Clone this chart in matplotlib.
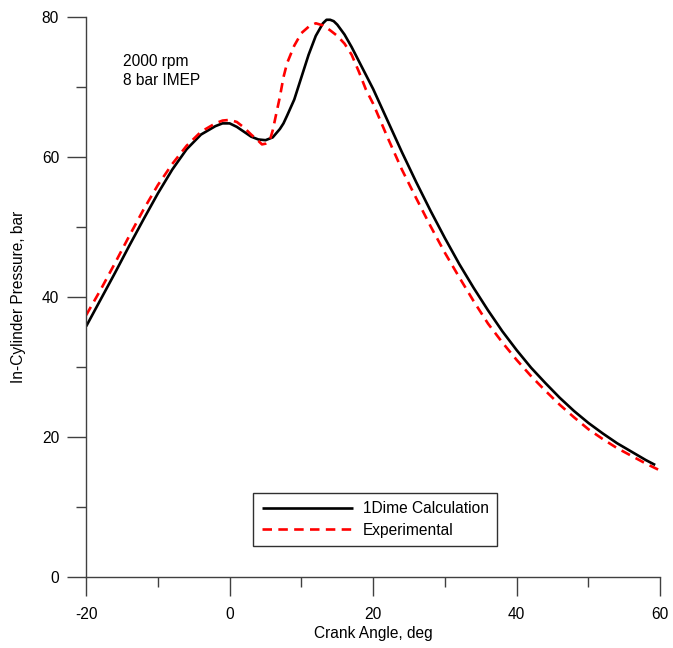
import matplotlib
matplotlib.use("Agg")
import matplotlib.pyplot as plt
from matplotlib.ticker import MultipleLocator

plt.rcParams['font.family'] = ['Liberation Sans', 'DejaVu Sans']
plt.rcParams['axes.unicode_minus'] = False

FS = 11.2

# Crank angle (deg) and in-cylinder pressure (bar), 1D model
calc_angle = [-20, -18, -16, -14, -12, -10, -8, -6, -4, -2, -1, 0, 1, 2, 3, 4, 5,
              6, 7, 7.5, 8, 9, 10, 11, 12, 13, 13.5, 14, 14.5, 15, 16, 17, 18, 19,
              20, 22, 24, 26, 28, 30, 32, 34, 36, 38, 40, 42, 44, 46, 48, 50, 52,
              54, 56, 58, 59.3]
calc_pressure = [35.8, 39.6, 43.4, 47.3, 51.1, 54.8, 58.2, 61.1, 63.2, 64.4, 64.8,
                 64.8, 64.3, 63.6, 62.9, 62.5, 62.4, 62.8, 64.0, 64.8, 65.9, 68.2,
                 71.4, 74.6, 77.3, 79.1, 79.6, 79.6, 79.4, 78.9, 77.5, 75.7, 73.7,
                 71.7, 69.7, 65.2, 60.7, 56.4, 52.3, 48.4, 44.7, 41.3, 38.1, 35.1,
                 32.4, 29.9, 27.7, 25.6, 23.7, 22.0, 20.5, 19.1, 17.9, 16.7, 16.0]

# Measured pressure trace
exp_angle = [-20, -18, -16, -14, -12, -10, -8, -6, -4, -2, -1, 0, 1, 2, 3, 4, 4.5,
             5, 5.6, 6, 6.5, 7, 7.5, 8, 9, 10, 11, 12, 13, 14, 15, 16, 17, 18, 19,
             20, 21, 22, 24, 26, 28, 30, 32, 34, 36, 38, 40, 42, 44, 46, 48, 50,
             52, 54, 56, 58, 60]
exp_pressure = [37.4, 41.0, 44.8, 48.7, 52.5, 56.0, 59.0, 61.6, 63.6, 64.8, 65.2,
                65.3, 65.0, 64.2, 63.2, 62.3, 61.8, 61.9, 62.4, 63.8, 66.2, 68.6,
                71.4, 73.4, 75.9, 77.7, 78.6, 79.1, 78.8, 78.1, 77.3, 76.2, 74.6,
                72.2, 69.6, 67.6, 65.2, 62.8, 58.2, 54.1, 50.1, 46.3, 42.8, 39.4,
                36.2, 33.5, 31.0, 28.7, 26.6, 24.6, 22.8, 21.1, 19.7, 18.4, 17.3,
                16.2, 15.2]

series_labels = ["1Dime Calculation", "Experimental"]
condition_text = "2000 rpm\n8 bar IMEP"

fig = plt.figure(figsize=(6.73, 6.48), dpi=100)
ax = fig.add_axes([0.128, 0.1096, 0.853, 0.8642])

ax.plot(calc_angle, calc_pressure, color='black', lw=1.9,
        label=series_labels[0], solid_capstyle='butt', solid_joinstyle='round')
ax.plot(exp_angle, exp_pressure, color='#ff0000', lw=1.9,
        linestyle=(0, (3.6, 2.4)), label=series_labels[1])

ax.set_xlim(-20, 60)
ax.set_ylim(0, 80)
ax.xaxis.set_major_locator(MultipleLocator(20))
ax.xaxis.set_minor_locator(MultipleLocator(10))
ax.yaxis.set_major_locator(MultipleLocator(20))
ax.yaxis.set_minor_locator(MultipleLocator(10))

for side in ('top', 'right'):
    ax.spines[side].set_visible(False)
for side in ('left', 'bottom'):
    ax.spines[side].set_color('#404040')
    ax.spines[side].set_linewidth(1.0)

ax.tick_params(which='major', direction='out', length=13.5, width=1.0,
               color='#404040', labelsize=FS, pad=6)
ax.tick_params(which='minor', direction='out', length=7, width=1.0,
               color='#404040')
ax.tick_params(axis='x', which='major', pad=8)

ax.set_xlabel("Crank Angle, deg", fontsize=FS)
ax.set_ylabel("In-Cylinder Pressure, bar", fontsize=FS)
ax.xaxis.set_label_coords(0.5, -0.088)
ax.yaxis.set_label_coords(-0.104, 0.5)

ax.text(-14.85, 74.7, condition_text, fontsize=FS, va='top', ha='left',
        linespacing=1.3)

leg = ax.legend(loc='upper left', bbox_to_anchor=(0.291, 0.1505),
                borderaxespad=0, fancybox=False, framealpha=1,
                edgecolor='#303030', fontsize=FS, handlelength=5.85,
                handletextpad=0.65, borderpad=0.55, labelspacing=0.42)
leg.get_frame().set_linewidth(1.0)

fig.savefig("out.png", dpi=100)
